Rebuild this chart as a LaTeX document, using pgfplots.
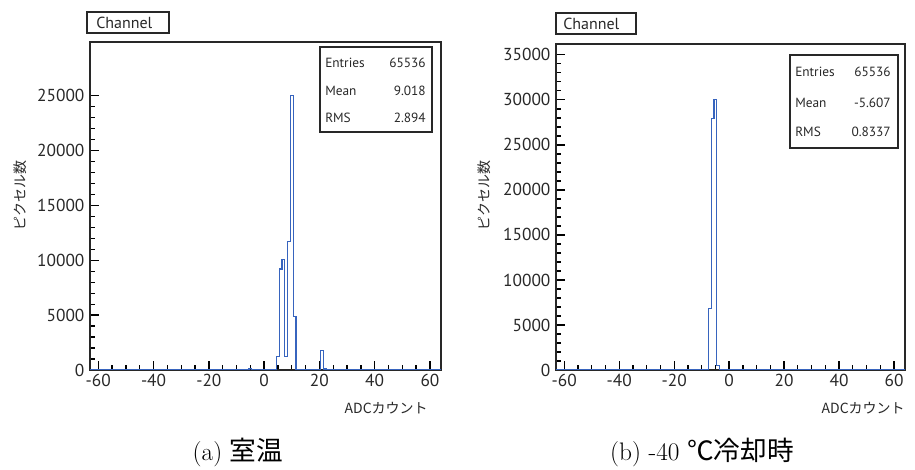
\documentclass[border=0pt]{standalone}
\usepackage{fontspec}
\usepackage{pgfplots}
\pgfplotsset{compat=1.18}
\newfontfamily\ptsans{PT Sans}
\newfontfamily\cjk{Noto Sans CJK JP}

\definecolor{histblue}{RGB}{55,100,190}
\definecolor{framec}{RGB}{40,40,40}

\pgfplotsset{
  roothist/.style={
    scale only axis,
    xmin=-63, xmax=64, ymin=0,
    xtick={-60,-40,...,60}, minor x tick num=3,
    minor y tick num=4,
    xtick pos=left, ytick pos=left,
    xtick align=inside, ytick align=inside,
    major tick length=7pt, minor tick length=3.6pt,
    axis line style={draw=framec, line width=1pt},
    xtick style={draw=black, line width=1pt},
    ytick style={draw=black, line width=1pt},
    scaled y ticks=false,
    /pgf/number format/assume math mode=true,
    /pgf/number format/1000 sep={},
    tick label style={font=\ptsans\fontsize{13}{15}\selectfont, text=framec},
    xticklabel style={inner sep=1pt, yshift=-2pt},
    yticklabel style={inner sep=1pt, xshift=-3pt},
  },
  histline/.style={const plot mark left, draw=histblue, line width=0.9pt, no marks},
}

% Channel histograms: bin edges (left) and counts
\pgfplotstableread{
x y
-63 0
-5.5 150
-4.5 0
4.5 1200
5.5 9200
6.5 10100
7.5 1200
8.5 11700
9.5 25000
10.5 4850
11.5 0
20.5 1800
21.5 100
22.5 0
64 0
}\roomtemp

\pgfplotstableread{
x y
-63 0
-7.5 6850
-6.5 27900
-5.5 30050
-4.5 480
-3.5 0
4.5 60
5.5 0
64 0
}\cooled

\begin{document}
\begin{tikzpicture}
\useasboundingbox (0,0) rectangle (686.25pt,-352.5pt);

\begin{axis}[roothist,
  at={(67.5pt,-277.5pt)}, anchor=south west,
  width=263.25pt, height=246pt,
  ymax=29900, ytick={0,5000,...,25000}]
  \addplot[histline] table {\roomtemp};
\end{axis}

\begin{axis}[roothist,
  at={(417pt,-277.5pt)}, anchor=south west,
  width=261.75pt, height=244.5pt,
  ymax=36200, ytick={0,5000,...,35000}]
  \addplot[histline] table {\cooled};
\end{axis}

\begin{scope}[x=0.75pt, y=-0.75pt]
  % title boxes
  \draw[framec, line width=0.8pt] (87,12) rectangle (169,33);
  \node[anchor=west, inner sep=0pt, text=framec, font=\ptsans\fontsize{12}{14}\selectfont] at (96,23) {Channel};
  \draw[framec, line width=0.8pt] (556,13) rectangle (636,34);
  \node[anchor=west, inner sep=0pt, text=framec, font=\ptsans\fontsize{12}{14}\selectfont] at (563,24) {Channel};

  % statistics boxes
  \begin{scope}[every node/.style={inner sep=0pt, text=framec, font=\ptsans\fontsize{10}{12}\selectfont}]
    \filldraw[draw=framec, fill=white, line width=0.8pt] (320,47) rectangle (432,132);
    \node[anchor=west] at (325,63) {Entries};
    \node[anchor=east] at (426,63) {65536};
    \node[anchor=west] at (325,91) {Mean};
    \node[anchor=east] at (426,91) {9.018};
    \node[anchor=west] at (325,118) {RMS};
    \node[anchor=east] at (426,118) {2.894};

    \filldraw[draw=framec, fill=white, line width=0.8pt] (790,55) rectangle (898,148);
    \node[anchor=west] at (795,72) {Entries};
    \node[anchor=east] at (891,72) {65536};
    \node[anchor=west] at (795,103) {Mean};
    \node[anchor=east] at (891,103) {-5.607};
    \node[anchor=west] at (795,132) {RMS};
    \node[anchor=east] at (891,132) {0.8337};
  \end{scope}

  % axis titles
  \node[anchor=east, inner sep=0pt, text=framec, font=\cjk\fontsize{10.5}{12}\selectfont] at (428,408) {ADCカウント};
  \node[anchor=east, inner sep=0pt, text=framec, font=\cjk\fontsize{10.5}{12}\selectfont] at (905,408) {ADCカウント};
  \node[rotate=90, inner sep=0pt, text=framec, font=\cjk\fontsize{10.5}{12}\selectfont] at (20,196) {ピクセル数};
  \node[rotate=90, inner sep=0pt, text=framec, font=\cjk\fontsize{10.5}{12}\selectfont] at (484,196) {ピクセル数};

  % sub-captions
  \node[inner sep=0pt, font=\fontsize{19}{21}\selectfont] at (238,452) {(a)\ {\cjk\fontsize{20}{21}\selectfont 室温}};
  \node[inner sep=0pt, font=\fontsize{19}{21}\selectfont] at (702,452) {(b) -40\ {\cjk\fontsize{20}{21}\selectfont ℃冷却時}};
\end{scope}
\end{tikzpicture}
\end{document}
